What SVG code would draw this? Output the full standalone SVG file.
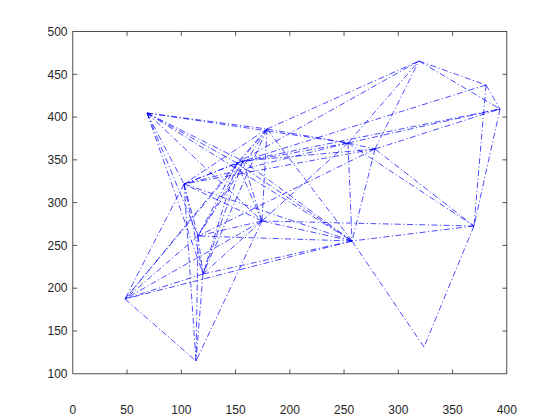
<svg xmlns="http://www.w3.org/2000/svg" width="560" height="420" viewBox="0 0 560 420">
<style>
.e{stroke:#0000ff;stroke-width:0.7;fill:none;stroke-dasharray:6 2.5 1.2 2.5}
.ax{stroke:#262626;stroke-width:0.8;fill:none}
.t{font-family:"Liberation Sans",Arial,sans-serif;font-size:12px;fill:#262626}
</style>
<rect width="560" height="420" fill="#ffffff"/>
<g id="axes">
<rect class="ax" x="72.8" y="31.5" width="434" height="342.3"/>
<path class="ax" d="M127.05 373.8v-4.3M181.3 373.8v-4.3M235.55 373.8v-4.3M289.8 373.8v-4.3M344.05 373.8v-4.3M398.3 373.8v-4.3M452.55 373.8v-4.3M127.05 31.5v4.3M181.3 31.5v4.3M235.55 31.5v4.3M289.8 31.5v4.3M344.05 31.5v4.3M398.3 31.5v4.3M452.55 31.5v4.3M72.8 331h4.3M72.8 288.2h4.3M72.8 245.4h4.3M72.8 202.6h4.3M72.8 159.85h4.3M72.8 117.1h4.3M72.8 74.3h4.3M506.8 331h-4.3M506.8 288.2h-4.3M506.8 245.4h-4.3M506.8 202.6h-4.3M506.8 159.85h-4.3M506.8 117.1h-4.3M506.8 74.3h-4.3"/>
<g class="t" text-anchor="middle">
<text x="72.8" y="413.5">0</text><text x="127.05" y="413.5">50</text><text x="181.3" y="413.5">100</text><text x="235.55" y="413.5">150</text><text x="289.8" y="413.5">200</text><text x="344.05" y="413.5">250</text><text x="398.3" y="413.5">300</text><text x="452.55" y="413.5">350</text><text x="506.8" y="413.5">400</text>
</g>
<g class="t" text-anchor="end">
<text x="67.5" y="378">100</text><text x="67.5" y="335.2">150</text><text x="67.5" y="292.4">200</text><text x="67.5" y="249.6">250</text><text x="67.5" y="206.8">300</text><text x="67.5" y="164">350</text><text x="67.5" y="121.3">400</text><text x="67.5" y="78.5">450</text><text x="67.5" y="35.7">500</text>
</g>
</g>
<g id="connectors">
<path class="e" d="M147 113L267 129M147 113L348 143M147 113L237 163M147 113L243 161M147 113L184 184M147 113L262 221M147 113L352 241M147 113L198 236M147 113L203 274"/>
<path class="e" d="M267 129L348 143M267 129L419 61M267 129L262 221M267 129L352 241M267 129L184 184M267 129L198 236M267 129L203 274M267 129L237 163M267 129L125 299"/>
<path class="e" d="M348 143L375 149M348 143L352 241M348 143L474 226M348 143L500 109M348 143L237 163M348 143L184 184M348 143L262 221M348 143L419 61"/>
<path class="e" d="M375 149L419 61M375 149L352 241M375 149L474 226M375 149L500 109M375 149L243 161M375 149L184 184M375 149L198 236"/>
<path class="e" d="M419 61L486 85M419 61L500 109M419 61L237 163M486 85L500 109M486 85L474 226M486 85L243 161M500 109L474 226M500 109L243 161"/>
<path class="e" d="M474 226L352 241M474 226L262 221M474 226L424 347M424 347L352 241"/>
<path class="e" d="M352 241L262 221M352 241L184 184M352 241L237 163M352 241L198 236M352 241L125 299M352 241L203 274M352 241L243 161"/>
<path class="e" d="M262 221L237 163M262 221L184 184M262 221L196 361M262 221L125 299M262 221L198 236M262 221L203 274M262 221L243 161"/>
<path class="e" d="M184 184L237 163M184 184L243 161M184 184L198 236M184 184L203 274M184 184L125 299M184 184L196 361"/>
<path class="e" d="M237 163L243 161M237 163L198 236M237 163L203 274M237 163L125 299M243 161L198 236M243 161L203 274"/>
<path class="e" d="M198 236L203 274M198 236L125 299M198 236L196 361M203 274L125 299M203 274L196 361M125 299L196 361"/>
</g>
</svg>
